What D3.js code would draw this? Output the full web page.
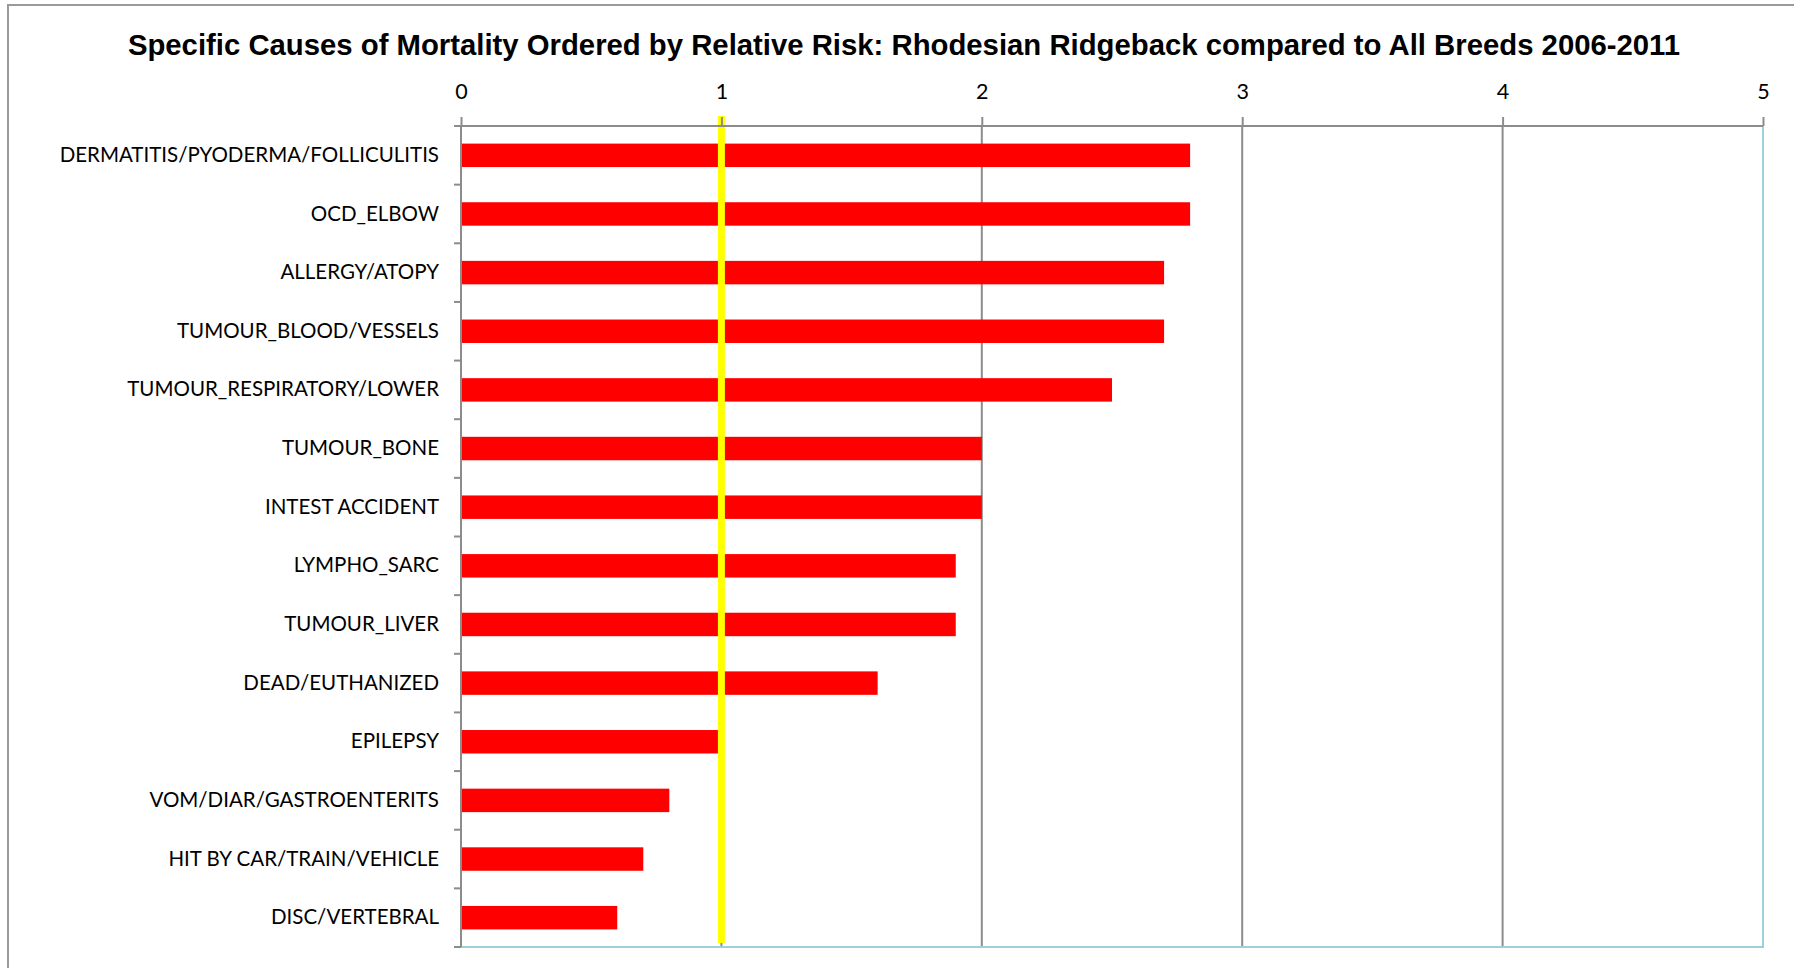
<!DOCTYPE html>
<html>
<head>
<meta charset="utf-8">
<script src="https://cdn.jsdelivr.net/npm/d3@7"></script>
<style>
  html, body { margin: 0; padding: 0; background: #fff; }
  svg { display: block; }
</style>
</head>
<body>
<svg id="chart" width="1794" height="968"></svg>
<script>
const title = "Specific Causes of Mortality Ordered by Relative Risk: Rhodesian Ridgeback compared to All Breeds 2006-2011";
const categories = [
  "DERMATITIS/PYODERMA/FOLLICULITIS",
  "OCD_ELBOW",
  "ALLERGY/ATOPY",
  "TUMOUR_BLOOD/VESSELS",
  "TUMOUR_RESPIRATORY/LOWER",
  "TUMOUR_BONE",
  "INTEST ACCIDENT",
  "LYMPHO_SARC",
  "TUMOUR_LIVER",
  "DEAD/EUTHANIZED",
  "EPILEPSY",
  "VOM/DIAR/GASTROENTERITS",
  "HIT BY CAR/TRAIN/VEHICLE",
  "DISC/VERTEBRAL"
];
const values = [2.8, 2.8, 2.7, 2.7, 2.5, 2.0, 2.0, 1.9, 1.9, 1.6, 0.99, 0.8, 0.7, 0.6];
const xTicks = [0, 1, 2, 3, 4, 5];
const referenceValue = 1;

const svg = d3.select("#chart");
const W = 1794, H = 968;
const plot = { left: 461, right: 1763, top: 126, bottom: 947 };
const labelFont = "Lato, 'Open Sans', sans-serif";

// outer chart border (only top/left visible)
svg.append("rect")
  .attr("x", 8).attr("y", 5)
  .attr("width", W + 20).attr("height", H + 20)
  .attr("fill", "none").attr("stroke", "#9a9a9a").attr("stroke-width", 2);

svg.append("text")
  .attr("x", 904).attr("y", 55)
  .attr("text-anchor", "middle")
  .attr("font-family", "'Liberation Sans', Arial, sans-serif")
  .attr("font-weight", "bold")
  .attr("font-size", 29.3)
  .attr("fill", "#000")
  .text(title);

const x = d3.scaleLinear().domain([0, 5]).range([plot.left, plot.right]);
const y = d3.scaleBand().domain(categories).range([plot.top, plot.bottom])
  .paddingInner(0.6).paddingOuter(0.3);

// gridlines
svg.append("g").selectAll("line").data(xTicks.filter(d => d > 0 && d < 5)).join("line")
  .attr("x1", d => x(d)).attr("x2", d => x(d))
  .attr("y1", plot.top).attr("y2", plot.bottom)
  .attr("stroke", "#8c8c8c").attr("stroke-width", 2);

// light blue right and bottom borders
svg.append("path")
  .attr("d", `M${x(5)},${plot.top}V${plot.bottom}H${plot.left}`)
  .attr("fill", "none").attr("stroke", "#9fcfdb").attr("stroke-width", 2);

// bars
svg.append("g").selectAll("rect").data(categories).join("rect")
  .attr("x", x(0))
  .attr("y", d => y(d))
  .attr("width", (d, i) => x(values[i]) - x(0))
  .attr("height", y.bandwidth())
  .attr("fill", "#ff0000");

// reference line
svg.append("line")
  .attr("x1", x(referenceValue)).attr("x2", x(referenceValue))
  .attr("y1", plot.top - 10).attr("y2", plot.bottom - 4)
  .attr("stroke", "#ffff00").attr("stroke-width", 7);

// top axis
const xAxis = d3.axisTop(x).tickValues(xTicks).tickSize(9).tickPadding(18).tickFormat(d3.format("d"));
const gx = svg.append("g").attr("transform", `translate(0,${plot.top})`).call(xAxis);
gx.select(".domain").attr("stroke", "#8c8c8c").attr("stroke-width", 2).attr("d", `M${plot.left},0H${plot.right}`);
gx.selectAll(".tick line").attr("stroke", "#8c8c8c").attr("stroke-width", 2);
gx.selectAll(".tick text").attr("font-family", labelFont).attr("font-size", 21.5).attr("fill", "#000");

// left axis
const yAxis = d3.axisLeft(y).tickSize(0).tickPadding(22);
const gy = svg.append("g").attr("transform", `translate(${plot.left},0)`).call(yAxis);
gy.select(".domain").attr("stroke", "#8c8c8c").attr("stroke-width", 2).attr("d", `M0,${plot.top}V${plot.bottom}`);
gy.selectAll(".tick text").attr("font-family", labelFont).attr("font-size", 20.5).attr("fill", "#000");

// category boundary ticks
const step = y.step();
const boundary = categories.map((c, i) => plot.top + i * step).concat([plot.bottom]);
gy.append("g").selectAll("line").data(boundary).join("line")
  .attr("x1", -7).attr("x2", 0)
  .attr("y1", d => d).attr("y2", d => d)
  .attr("stroke", "#8c8c8c").attr("stroke-width", 2);
</script>
</body>
</html>
